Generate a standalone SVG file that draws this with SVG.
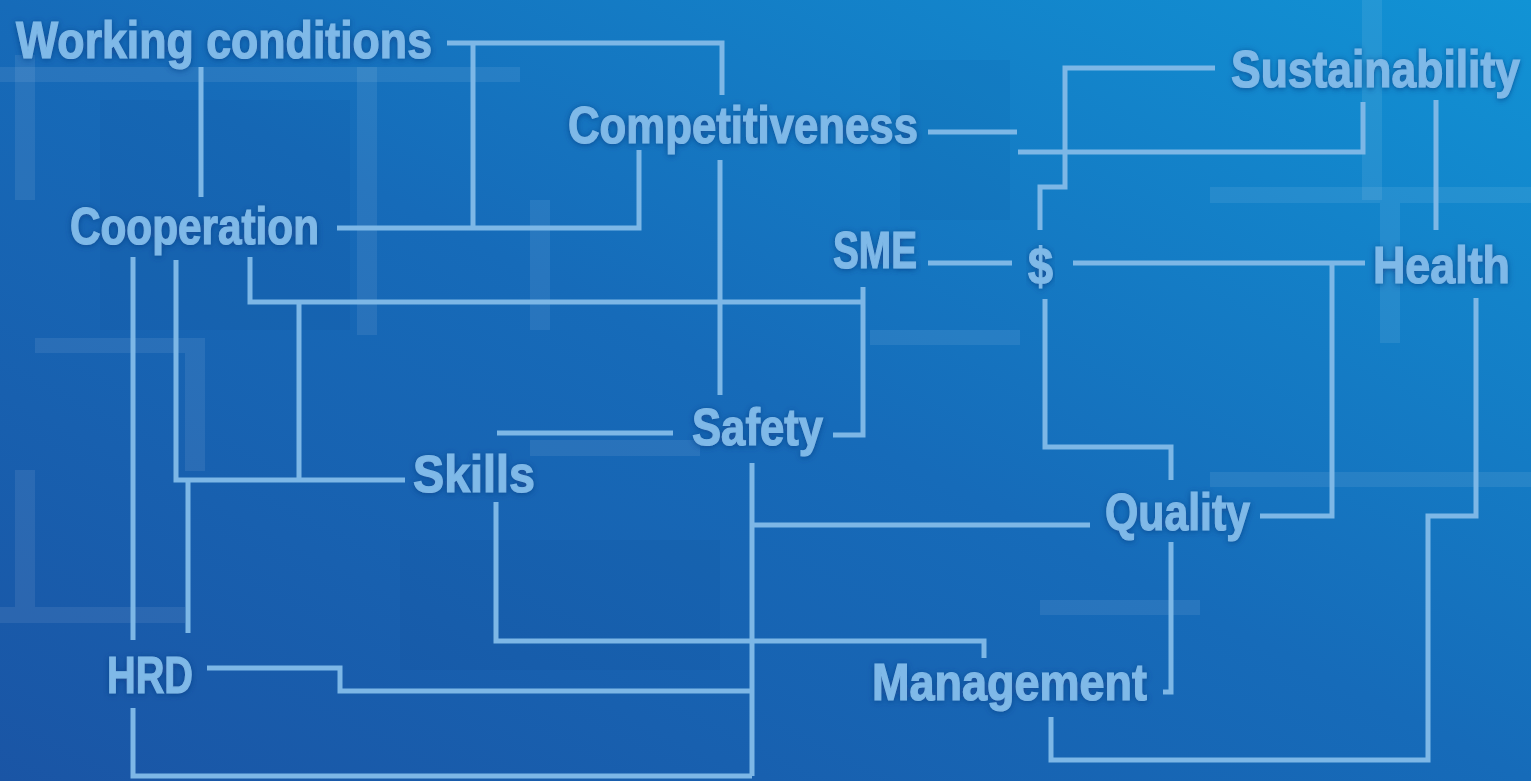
<svg xmlns="http://www.w3.org/2000/svg" width="1531" height="781" viewBox="0 0 1531 781">
<defs>
<linearGradient id="bg" x1="0" y1="1" x2="1" y2="0">
<stop offset="0" stop-color="#1a55a5"/>
<stop offset="0.5" stop-color="#166bb9"/>
<stop offset="1" stop-color="#1193d5"/>
</linearGradient>
<filter id="glow" x="-4%" y="-30%" width="108%" height="160%">
<feDropShadow dx="0" dy="1" stdDeviation="3" flood-color="#0b3c85" flood-opacity="0.75"/>
</filter>
<style>
.lbl{font-family:"Liberation Sans",Arial,sans-serif;font-weight:bold;font-size:52px;fill:#7fb9e8;stroke:#7fb9e8;stroke-width:1.2;filter:url(#glow)}
.con path{fill:none;stroke:#7db7e6;stroke-width:5;stroke-linecap:butt;stroke-linejoin:miter}
.bar{fill:#ffffff;opacity:0.08}
.dk{fill:#0a3a80;opacity:0.08}
</style>
</defs>
<rect width="1531" height="781" fill="url(#bg)"/>
<g id="background-pattern">
<rect class="bar" x="15" y="55" width="20" height="145"/>
<rect class="bar" x="0" y="67" width="520" height="15"/>
<rect class="bar" x="357" y="67" width="20" height="268"/>
<rect class="bar" x="35" y="338" width="170" height="15"/>
<rect class="bar" x="185" y="353" width="20" height="118"/>
<rect class="bar" x="0" y="607" width="185" height="16"/>
<rect class="bar" x="15" y="470" width="20" height="137"/>
<rect class="bar" x="1362" y="0" width="20" height="200"/>
<rect class="bar" x="1210" y="187" width="321" height="16"/>
<rect class="bar" x="1380" y="203" width="20" height="140"/>
<rect class="bar" x="1210" y="472" width="321" height="15"/>
<rect class="bar" x="530" y="440" width="170" height="16"/>
<rect class="bar" x="1040" y="600" width="160" height="15"/>
<rect class="bar" x="870" y="330" width="150" height="15"/>
<rect class="bar" x="530" y="200" width="20" height="130"/>
<rect class="dk" x="100" y="100" width="250" height="230"/>
<rect class="dk" x="900" y="60" width="110" height="160"/>
<rect class="dk" x="400" y="540" width="320" height="130"/>
</g>
<g id="connectors" class="con">
<path d="M447,43 H722 V95"/>
<path d="M473,43 V228"/>
<path d="M337,228 H639 V150"/>
<path d="M201,67 V197"/>
<path d="M720,160 V395"/>
<path d="M928,132 H1017"/>
<path d="M1018,152 H1363 V102"/>
<path d="M1215,68 H1065 V187 H1040 V230"/>
<path d="M1436,100 V230"/>
<path d="M928,263 H1012"/>
<path d="M1073,263 H1365"/>
<path d="M1260,516 H1332 V263"/>
<path d="M1045,299 V447 H1171 V480"/>
<path d="M1476,298 V516 H1428 V760 H1051 V717"/>
<path d="M1090,525 H752"/>
<path d="M752,463 V776"/>
<path d="M1171,542 V692 H1163"/>
<path d="M496,502 V641 H984 V658"/>
<path d="M207,668 H340 V691 H752"/>
<path d="M133,708 V776 H752"/>
<path d="M133,257 V640"/>
<path d="M176,260 V480 H405"/>
<path d="M188,480 V633"/>
<path d="M250,257 V302 H863"/>
<path d="M863,287 V435 H833"/>
<path d="M299,302 V480"/>
<path d="M497,433 H673"/>
</g>
<g id="working-conditions"><text class="lbl" x="16" y="58" font-size="50" textLength="416" lengthAdjust="spacingAndGlyphs">Working conditions</text></g>
<g id="cooperation"><text class="lbl" x="70" y="244" font-size="47" textLength="249" lengthAdjust="spacingAndGlyphs">Cooperation</text></g>
<g id="competitiveness"><text class="lbl" x="568" y="143" font-size="55" textLength="350" lengthAdjust="spacingAndGlyphs">Competitiveness</text></g>
<g id="sustainability"><text class="lbl" transform="translate(1231,87) scale(0.855,1)" x="0" y="0" font-size="55">Sustainability</text></g>
<g id="sme"><text class="lbl" x="833" y="268" font-size="42" textLength="84" lengthAdjust="spacingAndGlyphs">SME</text></g>
<g id="dollar"><text class="lbl" x="1028" y="284" font-size="50" textLength="25" lengthAdjust="spacingAndGlyphs">$</text></g>
<g id="health"><text class="lbl" x="1373" y="283" font-size="55" textLength="137" lengthAdjust="spacingAndGlyphs">Health</text></g>
<g id="safety"><text class="lbl" x="692" y="445" font-size="51" textLength="131" lengthAdjust="spacingAndGlyphs">Safety</text></g>
<g id="skills"><text class="lbl" x="413" y="492" font-size="52" textLength="122" lengthAdjust="spacingAndGlyphs">Skills</text></g>
<g id="quality"><text class="lbl" x="1105" y="530" font-size="51" textLength="145" lengthAdjust="spacingAndGlyphs">Quality</text></g>
<g id="management"><text class="lbl" x="872" y="700" font-size="53" textLength="275" lengthAdjust="spacingAndGlyphs">Management</text></g>
<g id="hrd"><text class="lbl" x="107" y="693" font-size="53" textLength="86" lengthAdjust="spacingAndGlyphs">HRD</text></g>
</svg>
